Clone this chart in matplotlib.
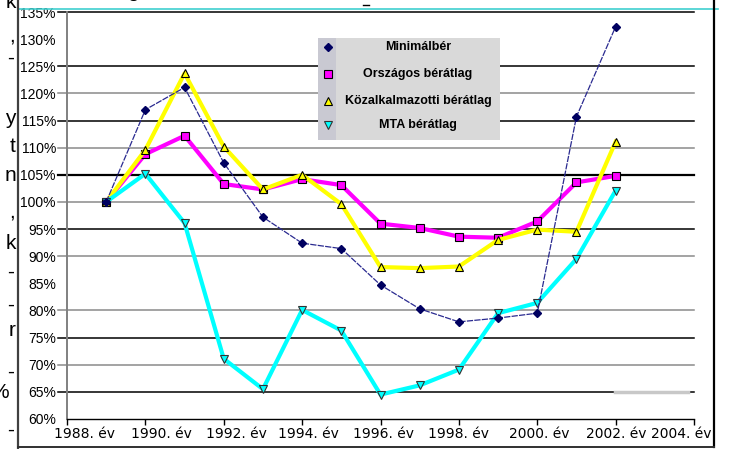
import matplotlib
matplotlib.use("Agg")
import matplotlib.pyplot as plt
import matplotlib.transforms as mtransforms
from matplotlib.lines import Line2D
from matplotlib.patches import Rectangle

years = [1989, 1990, 1991, 1992, 1993, 1994, 1995, 1996, 1997, 1998, 1999, 2000, 2001, 2002]
minimalber = [100, 117.0, 121.1, 107.2, 97.2, 92.4, 91.4, 84.7, 80.3, 77.9, 78.6, 79.5, 115.7, 132.3]
orszagos = [100, 108.8, 112.2, 103.3, 102.3, 104.2, 103.1, 96.0, 95.2, 93.6, 93.4, 96.4, 103.6, 104.8]
kozalk = [100, 109.6, 123.7, 110.2, 102.3, 105.0, 99.6, 88.0, 87.8, 88.1, 93.0, 94.9, 94.5, 111.1]
mta = [100, 105.2, 96.1, 71.1, 65.5, 80.1, 76.3, 64.5, 66.2, 69.1, 79.5, 81.4, 89.5, 102.1]

names = ["Minimálbér", "Országos bérátlag", "Közalkalmazotti bérátlag", "MTA bérátlag"]
xticks = list(range(1988, 2005, 2))
xlabels = [f"{y}. év" for y in xticks]
yticks = list(range(60, 136, 5))
ylabels = [f"{v}%" for v in yticks]

W, H = 736, 449


def fx(x):
    return x / W


def fy(y):
    return 1 - y / H


fig = plt.figure(figsize=(W / 100, H / 100), dpi=100)
ax = fig.add_axes([fx(67), fy(419), (694 - 67) / W, (419 - 12) / H])
ax.set_xlim(1988, 2004)
ax.set_ylim(60, 135)

# horizontal grid (some levels missing in the original)
for v in yticks:
    if v in (60, 85, 130):
        continue
    col = "black" if v % 10 == 5 else "#8a8a8a"
    lw = 1.6 if v == 105 else 1.1
    ax.axhline(v, xmin=-0.014, xmax=1, color=col, lw=lw, clip_on=False, zorder=1)
ax.axhline(65, xmin=(615 - 67) / 627, xmax=(688 - 67) / 627, color="#c8c8c8", lw=2.5, zorder=1.5)

# series
ax.plot(years, orszagos, color="#ff00ff", lw=3.0, marker="s", ms=5.5,
        mfc="#ff00ff", mec="black", mew=0.8, zorder=3)
ax.plot(years, kozalk, color="#ffff00", lw=3.0, marker="^", ms=6,
        mfc="#ffff00", mec="black", mew=0.8, zorder=4)
ax.plot(years, mta, color="#00ffff", lw=3.0, marker="v", ms=6,
        mfc="#00ffff", mec="#333333", mew=0.8, zorder=5)
ax.plot(years, minimalber, color="#2a2a90", lw=0.9, ls=(0, (5, 1)), marker="D", ms=3.8,
        mfc="#000060", mec="#000060", zorder=6)

# axes styling
for s in ("top", "right"):
    ax.spines[s].set_visible(False)
ax.spines["left"].set_color("#808080")
ax.spines["left"].set_linewidth(1.4)
ax.spines["bottom"].set_color("black")
ax.spines["bottom"].set_linewidth(1.0)

ax.set_yticks(yticks)
ax.set_yticklabels(ylabels, family="Liberation Sans", fontsize=10)
ax.tick_params(axis="y", length=0, pad=8)
ax.set_xticks(xticks)
ax.set_xticklabels(xlabels, family="DejaVu Sans", fontsize=10)
ax.tick_params(axis="x", length=4, width=1, direction="out", pad=2)
offsets = [17, 16, 13, 6, 3, 0, 2, 1, -13]
for lab, off in zip(ax.get_xticklabels(), offsets):
    lab.set_transform(lab.get_transform() + mtransforms.ScaledTranslation(off / 100, 0, fig.dpi_scale_trans))

# legend box drawn by hand (centered text)
fig.patches.append(Rectangle((fx(318), fy(140)), (500 - 318) / W, (140 - 38) / H,
                             transform=fig.transFigure, facecolor="#d9d9d9", edgecolor="none", zorder=10))
fig.patches.append(Rectangle((fx(318), fy(140)), (336 - 318) / W, (140 - 38) / H,
                             transform=fig.transFigure, facecolor="#c9c9d2", edgecolor="none", zorder=11))
leg_style = [
    dict(marker="D", ms=4, mfc="#000060", mec="#000060"),
    dict(marker="s", ms=6, mfc="#ff00ff", mec="black", mew=0.8),
    dict(marker="^", ms=6, mfc="#ffff00", mec="black", mew=0.8),
    dict(marker="v", ms=6, mfc="#00ffff", mec="#333333", mew=0.8),
]
rows = [47, 74, 101, 125]
for name, st, ry in zip(names, leg_style, rows):
    fig.lines.append(Line2D([fx(328)], [fy(ry)], transform=fig.transFigure, ls="none", zorder=12, **st))
    fig.text(fx(418), fy(ry), name, ha="center", va="center", fontsize=9, fontweight="bold",
             family="Liberation Sans", zorder=12)

# slide fragments around the chart
fig.lines.append(Line2D([fx(18), fx(718)], [fy(9), fy(9)], transform=fig.transFigure, color="#40d0d0", lw=1.2))
fig.lines.append(Line2D([fx(18), fx(18)], [0, 1], transform=fig.transFigure, color="#404040", lw=1.6))
fig.lines.append(Line2D([fx(714), fx(714)], [fy(447), 1], transform=fig.transFigure, color="black", lw=1.6))
fig.lines.append(Line2D([fx(18), fx(714)], [fy(447), fy(447)], transform=fig.transFigure, color="#303030", lw=1.4))
fig.lines.append(Line2D([fx(363), fx(369)], [fy(5), fy(5)], transform=fig.transFigure, color="black", lw=1))
fig.text(fx(133), fy(-3), "g", ha="center", va="baseline", fontsize=15, family="Liberation Sans")

frags = [("k", 16, 2), (",", 15, 36), ("-", 14, 58), ("y", 16, 118), ("t", 16, 146), ("n", 16, 176),
         (",", 15, 212), ("k", 16, 243), ("-", 14, 272), ("-", 14, 305), ("r", 16, 330),
         ("-", 14, 372), ("%", 9, 392), ("-", 14, 430)]
for ch, x, y in frags:
    fig.text(fx(x), fy(y), ch, ha="right", va="center", fontsize=15, family="Liberation Sans")

fig.savefig("out.png", dpi=100)
